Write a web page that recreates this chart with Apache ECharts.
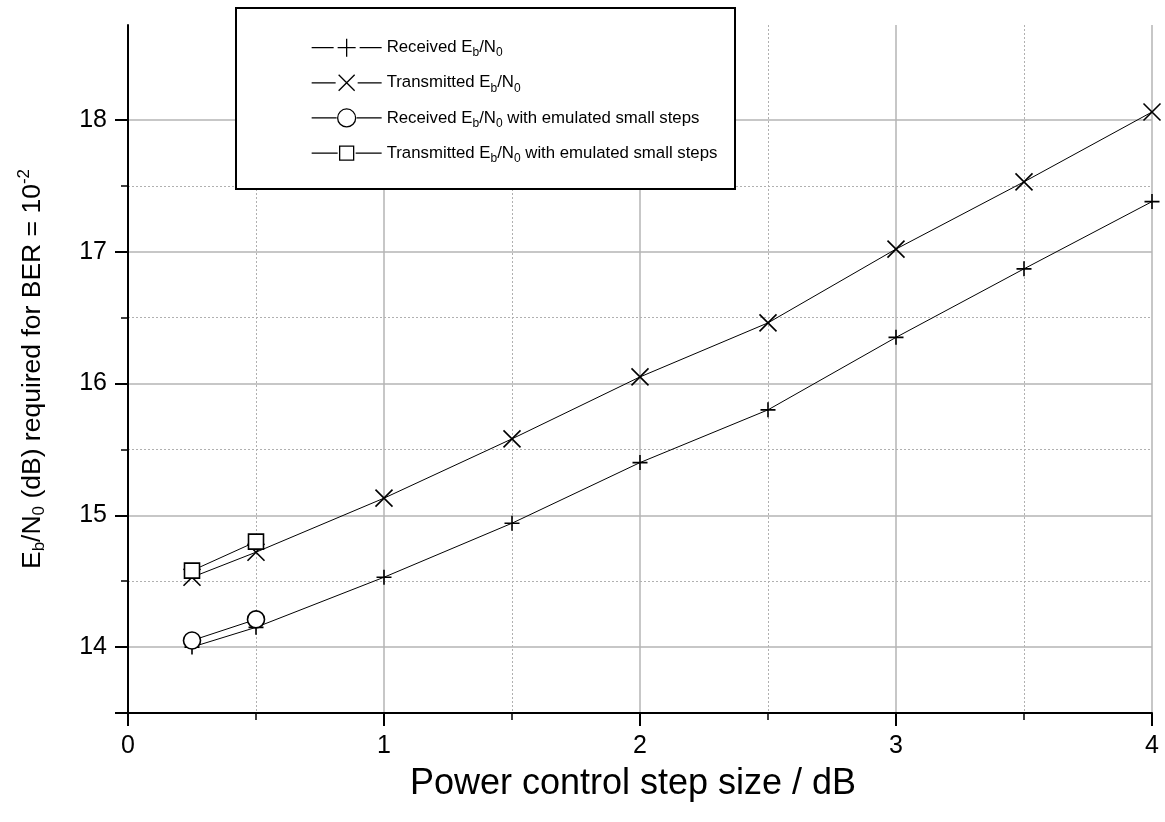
<!DOCTYPE html>
<html>
<head>
<meta charset="utf-8">
<script src="https://cdn.jsdelivr.net/npm/echarts@6/dist/echarts.min.js"></script>
<style>
html,body{margin:0;padding:0;background:#fff;}
#chart{width:1165px;height:822px;}
</style>
</head>
<body>
<div id="chart"></div>
<script>
// ---- data ----
const stepSizes = [0.25, 0.5, 1, 1.5, 2, 2.5, 3, 3.5, 4];
const receivedEbN0 = [14.0, 14.15, 14.53, 14.94, 15.40, 15.80, 16.35, 16.87, 17.38];
const transmittedEbN0 = [14.53, 14.72, 15.13, 15.58, 16.05, 16.46, 17.02, 17.53, 18.06];
const emulatedStepSizes = [0.25, 0.5];
const receivedEmulated = [14.05, 14.21];
const transmittedEmulated = [14.58, 14.80];
const yMajorTicks = [13.5, 14, 15, 16, 17, 18];
const yLabels = [14, 15, 16, 17, 18];
const yMinorTicks = [14.5, 15.5, 16.5, 17.5];
const seriesNames = [
  'Received E_b/N_0',
  'Transmitted E_b/N_0',
  'Received E_b/N_0 with emulated small steps',
  'Transmitted E_b/N_0 with emulated small steps'
];
const xAxisTitle = 'Power control step size / dB';

function richName(name) {
  return name.split(/(_[a-z0-9])/).filter(s => s.length).map(s =>
    s.startsWith('_') ? '{s|' + s.slice(1) + '}' : '{n|' + s + '}'
  ).join('');
}

const FONT = '"Liberation Sans", Arial, sans-serif';
const chart = echarts.init(document.getElementById('chart'), null, {renderer: 'canvas'});

const plusPath = 'path://M0,7L14,7M7,0L7,14';
const crossPath = 'path://M0,0L16,16M16,0L0,16';

const anchors = 'M35,0L35,0M35,20L35,20';
const legendIcons = [
  'path://M0,10L22,10M48,10L70,10M26,10L44,10M35,1L35,19' + anchors,
  'path://M0,10L24,10M46,10L70,10M27,2L43,18M43,2L27,18' + anchors,
  'path://M0,10L25,10M45,10L70,10M44,10A9,9,0,1,1,26,10A9,9,0,1,1,44,10' + anchors,
  'path://M0,10L26,10M44,10L70,10M28,3L42,3L42,17L28,17Z' + anchors
];

function mk(name, xs, ys, symbol, size) {
  return {
    name: name,
    type: 'line',
    data: xs.map((x, i) => [x, ys[i]]),
    symbol: symbol,
    symbolSize: size,
    showAllSymbol: true,
    lineStyle: {color: '#000', width: 1},
    itemStyle: {color: '#fff', borderColor: '#000', borderWidth: 1.6},
    emphasis: {disabled: true},
    z: 2
  };
}

const majorGridLines = yLabels.map(v => ({yAxis: v}));
const minorGridLines = yMinorTicks.map(v => ({yAxis: v}));

const option = {
  animation: false,
  backgroundColor: '#fff',
  textStyle: {fontFamily: FONT},
  grid: {left: 128, right: 13, top: 25, bottom: 109, containLabel: false},
  xAxis: {
    type: 'value',
    min: 0, max: 4, interval: 1,
    name: xAxisTitle,
    nameLocation: 'middle',
    nameGap: 53,
    nameTextStyle: {fontSize: 36, color: '#000', fontFamily: FONT, padding: [0, 14, 0, 0]},
    axisLine: {show: true, onZero: false, lineStyle: {color: '#000', width: 2}},
    axisTick: {show: true, length: 13, lineStyle: {color: '#000', width: 2}},
    minorTick: {show: true, splitNumber: 2, length: 7, lineStyle: {color: '#000', width: 1.5}},
    axisLabel: {fontSize: 25, color: '#000', margin: 21, fontFamily: FONT},
    splitLine: {show: true, lineStyle: {color: '#b4b4b4', width: 1.5}},
    minorSplitLine: {show: true, lineStyle: {color: '#b0b0b0', width: 1, type: [2, 2]}}
  },
  yAxis: [{
    type: 'value',
    min: 13.5, max: 18.72,
    name: richName('E_b/N_0 (dB) required for BER = ') + '{n|10}{sup|-2}',
    nameLocation: 'middle',
    nameRotate: 90,
    nameGap: 79,
    nameTextStyle: {
      color: '#000', fontFamily: FONT, fontSize: 26.5,
      rich: {
        n: {fontSize: 26.5, color: '#000', fontFamily: FONT},
        s: {fontSize: 17, color: '#000', fontFamily: FONT, padding: [14, 0, 0, 0]},
        sup: {fontSize: 17, color: '#000', fontFamily: FONT, padding: [0, 0, 16, 0]}
      }
    },
    axisLine: {show: true, onZero: false, lineStyle: {color: '#000', width: 2}},
    axisTick: {show: true, length: 13, customValues: yMajorTicks, lineStyle: {color: '#000', width: 2}},
    axisLabel: {fontSize: 25, color: '#000', margin: 21, customValues: yLabels, fontFamily: FONT},
    splitLine: {show: false}
  }, {
    type: 'value',
    min: 13.5, max: 18.72,
    position: 'left',
    axisLine: {show: false},
    axisTick: {show: true, length: 7, customValues: yMinorTicks, lineStyle: {color: '#000', width: 1.5}},
    axisLabel: {show: false},
    splitLine: {show: false}
  }],
  legend: {
    show: true,
    orient: 'vertical',
    left: 311,
    top: 37,
    itemWidth: 70,
    itemHeight: 20,
    itemGap: 13,
    padding: 0,
    selectedMode: false,
    z: 5,
    itemStyle: {color: '#fff', borderColor: '#000', borderWidth: 1.3},
    data: seriesNames.map((n, i) => ({name: n, icon: legendIcons[i]})),
    formatter: function (name) { return richName(name); },
    textStyle: {
      fontSize: 16.8, color: '#000', fontFamily: FONT,
      rich: {
        n: {fontSize: 16.8, color: '#000', fontFamily: FONT, height: 26},
        s: {fontSize: 12, color: '#000', fontFamily: FONT, padding: [11, 0, 0, 0]}
      }
    }
  },
  graphic: [{
    type: 'rect',
    z: 4,
    shape: {x: 236, y: 8, width: 499, height: 181},
    style: {fill: '#fff', stroke: '#000', lineWidth: 2}
  }],
  series: [
    Object.assign(mk(seriesNames[0], stepSizes, receivedEbN0, plusPath, 15), {
      markLine: {
        silent: true, symbol: 'none', label: {show: false},
        lineStyle: {color: '#b4b4b4', width: 1.5, type: 'solid'},
        data: majorGridLines, z: 0
      }
    }),
    Object.assign(mk(seriesNames[1], stepSizes, transmittedEbN0, crossPath, 17), {
      markLine: {
        silent: true, symbol: 'none', label: {show: false},
        lineStyle: {color: '#b0b0b0', width: 1, type: [2, 2]},
        data: minorGridLines, z: 0
      }
    }),
    mk(seriesNames[2], emulatedStepSizes, receivedEmulated, 'circle', 17),
    mk(seriesNames[3], emulatedStepSizes, transmittedEmulated, 'rect', 15)
  ]
};
chart.setOption(option);
</script>
</body>
</html>
